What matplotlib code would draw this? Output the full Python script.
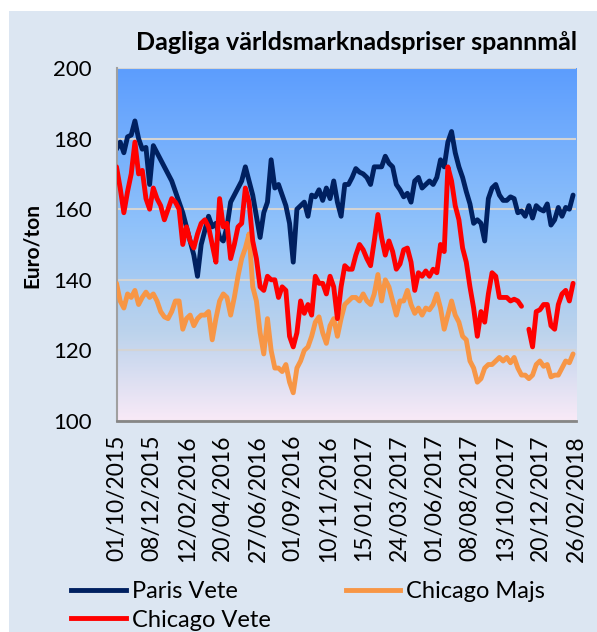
import numpy as np
import matplotlib
matplotlib.use("Agg")
import matplotlib.pyplot as plt
from matplotlib.colors import LinearSegmentedColormap
from matplotlib.patches import Rectangle
from matplotlib.lines import Line2D

plt.rcParams['font.family'] = ['Lato', 'DejaVu Sans']

# 625 noteringsdagar på x-axeln, ett avläst värde per 5 dagar
antal_dagar = 625
steg = 5
datum_etiketter = ['01/10/2015', '08/12/2015', '12/02/2016', '20/04/2016', '27/06/2016',
                   '01/09/2016', '10/11/2016', '15/01/2017', '24/03/2017', '01/06/2017',
                   '08/08/2017', '13/10/2017', '20/12/2017', '26/02/2018']

paris_vete = [177, 179, 176, 180.5, 181, 185, 180, 177, 177.5, 167, 178, 176, 174, 172, 170, 168, 165, 162, 159, 155, 151, 147, 141, 150, 154, 158,
              155, 156, 152, 151, 155, 162, 164, 166, 168, 172, 168, 164, 158, 152, 159, 162, 174, 166, 167, 164, 161, 156, 145, 160, 161, 162,
              158, 164, 163.5, 165.5, 162.5, 166, 163, 168, 162, 158, 167, 167, 169, 171.5, 170.5, 170, 169, 167, 172, 172, 172, 175, 173, 172,
              167, 165.5, 163.5, 164.5, 162, 168, 169, 166, 167, 168, 167, 169, 174, 172, 179, 182, 176, 172, 169, 165, 161.5, 156, 157, 156, 151,
              163, 166, 167, 164, 162.5, 162.5, 163.5, 163, 159, 159.5, 158, 161, 157.5, 161, 160, 159.5, 161.5, 155.5, 157, 160.5, 158, 160.5, 160, 164]

chicago_vete = [172, 166, 159, 165, 170, 179, 170, 171, 163, 160, 166, 163, 161, 157, 160, 163, 162, 160, 150, 155, 151, 149, 153, 156, 157, 155,
                150, 145, 163, 155, 156, 146, 150, 155, 156, 166, 162, 151, 146, 138, 137, 141, 140, 140, 135, 138, 137, 124, 121, 125, 134, 130.5,
                133, 130, 141, 139, 139, 136, 141, 138, 129, 138, 144, 143, 143, 147, 150, 148.5, 146, 144, 151, 158.5, 152, 147, 151, 148,
                143, 144.5, 148.5, 149, 145, 137, 142, 141, 142.5, 141, 143, 142, 150, 148, 172, 168, 161, 157, 149, 145, 138, 132, 124, 131, 128,
                136, 142, 141, 135, 135, 135, 134, 134.5, 134, 132.5, np.nan, 126, 121, 131, 131.5, 133, 133, 127, 126, 133, 136, 137, 134, 139]

chicago_majs = [139, 134, 132, 136, 135, 137, 133, 135, 136.5, 135, 136, 134, 131, 129.5, 129, 131, 134, 134, 126, 129, 130, 127, 129, 130, 130, 131,
                123, 129, 134, 136, 135, 130, 135, 141, 146, 149, 153, 138, 134, 125, 119, 129, 120, 115, 115, 114, 116, 111, 108, 115, 117, 120,
                121, 124, 128, 129.5, 125, 122, 127, 129, 124, 129, 133, 134, 135, 135, 134, 136, 134, 133, 136, 141.5, 134, 140, 138, 134,
                130, 134, 134, 137, 133, 130.5, 132, 130, 132, 131.5, 133, 136, 132, 126, 130, 134, 130, 128, 124, 123, 117, 115, 111, 112, 115,
                116, 116, 117, 118, 117, 118, 116.5, 118, 115, 113, 113, 112, 113, 116, 117, 115.5, 116, 112.5, 113, 113, 115, 117, 116.5, 119]

x = np.arange(0, antal_dagar, steg)[:len(paris_vete)]
xt = np.linspace(0, antal_dagar - 1, len(datum_etiketter))

fig = plt.figure(figsize=(5.97, 6.32), dpi=100)
fig.patch.set_facecolor('white')
fig.patches.append(Rectangle((9 / 597, 0), 1, 1 - 11 / 632, transform=fig.transFigure,
                             facecolor='#dce6f2', edgecolor='none', zorder=-1))

ax = fig.add_axes([116.5 / 597, 1 - 421 / 632, (576 - 116.5) / 597, (421 - 68) / 632])

cm = LinearSegmentedColormap.from_list('bg', [(0, '#5c9dfe'), (0.45, '#90c2fa'), (0.75, '#bcd3ec'), (1, '#f9eaf7')])
grad = np.linspace(0, 1, 256).reshape(-1, 1)
ax.imshow(grad, aspect='auto', extent=[0, antal_dagar - 1, 100, 200], cmap=cm, zorder=0, origin='upper')

ax.plot(x, paris_vete, color='#002060', lw=3.5, zorder=2, solid_capstyle='round', solid_joinstyle='round')
ax.plot(x, chicago_majs, color='#f79646', lw=3.5, zorder=3, solid_capstyle='round', solid_joinstyle='round')
ax.plot(x, chicago_vete, color='#ff0000', lw=3.5, zorder=4, solid_capstyle='round', solid_joinstyle='round')

ax.set_xlim(0, antal_dagar - 1)
ax.set_ylim(100, 200)
ax.set_yticks([100, 120, 140, 160, 180, 200])
ax.set_xticks(xt)
ax.set_xticklabels(datum_etiketter, rotation=90)
ax.yaxis.grid(True, color='#d4d4d4', lw=1.5)
ax.set_axisbelow(True)
ax.tick_params(axis='y', length=0, pad=18, labelsize=16)
ax.tick_params(axis='x', length=0, pad=10, labelsize=16.5)
for s in ['top', 'right']:
    ax.spines[s].set_visible(False)
ax.spines['left'].set_color('#a0a0a0')
ax.spines['left'].set_linewidth(1.5)
ax.spines['bottom'].set_color('#868686')
ax.spines['bottom'].set_linewidth(2)

fig.text(32 / 597, 1 - 245 / 632, 'Euro/ton', rotation=90, fontsize=15, fontweight='bold', ha='center', va='center')
fig.text(577 / 597, 1 - 42 / 632, 'Dagliga världsmarknadspriser spannmål', fontsize=18, fontweight='bold', ha='right', va='center')

handles = [Line2D([], [], color='#002060', lw=3.5),
           Line2D([], [], color='#ff0000', lw=3.5),
           Line2D([], [], color='#f79646', lw=3.5)]
fig.legend(handles, ['Paris Vete', 'Chicago Vete', 'Chicago Majs'], loc='upper left',
           bbox_to_anchor=(62 / 597, 1 - 572 / 632), ncol=2, frameon=False, fontsize=17,
           handlelength=2.3, handletextpad=0.25, columnspacing=3.2, labelspacing=0.3, borderaxespad=0)

fig.savefig('out.png', dpi=100)
